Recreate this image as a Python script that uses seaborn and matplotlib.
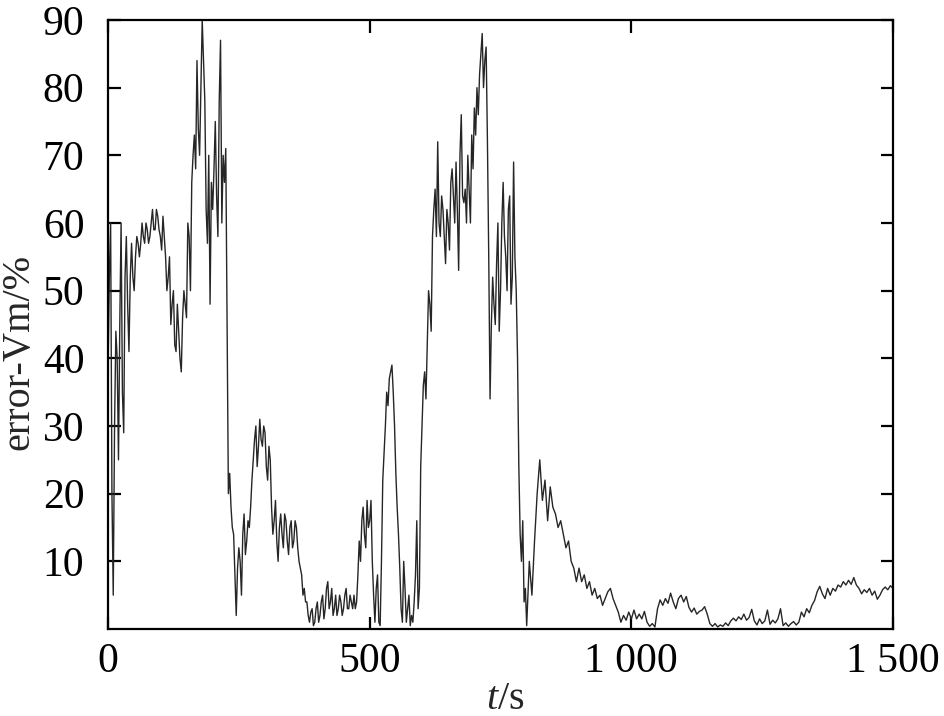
import numpy as np
import pandas as pd
import matplotlib
matplotlib.use("Agg")
import matplotlib.pyplot as plt
import seaborn as sns

# amostragem principal a cada 5 s (t = 0, 5, ..., 1500)
t_step = 5
err_0 = [38, 60, 5, 44, 25, 60, 29, 58, 41, 57, 50, 58, 55, 60, 57, 59, 58, 62, 59, 61]
err_100 = [58, 61, 55, 52, 45, 50, 41, 44, 38, 50, 46, 58, 66, 73, 84, 70, 90, 78, 57, 48]
err_200 = [62, 75, 58, 87, 70, 71, 20, 18, 14, 2, 12, 5, 17, 13, 15, 22, 28, 24, 31, 27]
err_300 = [29, 22, 25, 14, 19, 10, 17, 12, 16, 11, 16, 13, 15, 10, 8, 6, 4, 1, 3, 1]
err_400 = [4, 2, 5, 3, 7, 4, 2, 5, 3, 4, 3, 6, 3, 4, 5, 4, 13, 16, 14, 19]
err_500 = [16, 10, 1, 8, 0.5, 22, 30, 33, 38, 35, 23, 14, 3, 10, 1, 5, 2, 4, 16, 6]
err_600 = [30, 38, 42, 48, 58, 65, 72, 58, 62, 54, 60, 66, 64, 69, 53, 76, 63, 60, 65, 73]
err_700 = [77, 80, 82, 88, 84, 72, 34, 52, 45, 60, 50, 66, 55, 62, 48, 69, 50, 24, 10, 4]
err_800 = [0.5, 10, 5, 13, 20, 25, 19, 22, 16, 21, 18, 17, 15, 16, 14, 12, 13, 10, 9, 7]
err_900 = [9, 7, 8, 6, 7, 5, 6, 4.5, 5, 3.5, 4.5, 5.5, 6, 4.5, 3.5, 2.5, 1, 2, 1.3, 2.5]
err_1000 = [1.5, 2.8, 1.5, 2.2, 1.5, 2.6, 1, 0.4, 0.8, 0.3, 3, 4.3, 3.5, 4.5, 3.8, 5.3, 4, 3, 4.5, 5]
err_1100 = [4, 4.8, 3.2, 2.5, 3.1, 2.2, 2.6, 2.8, 3.3, 2.2, 0.8, 0.4, 0.8, 0.3, 0.6, 0.4, 0.9, 0.5, 1.2, 1.6]
err_1200 = [1.2, 1.8, 1.4, 2.2, 1.3, 1.7, 2.9, 1.2, 0.6, 1.5, 0.8, 1.2, 2.8, 0.7, 1.3, 0.9, 1.5, 3.0, 0.5, 0.9]
err_1300 = [0.4, 0.8, 1.1, 0.6, 1.0, 2.5, 1.8, 3.0, 2.4, 3.5, 4.2, 5.5, 6.3, 5.2, 4.5, 6.0, 5.0, 6.0, 5.6, 6.5]
err_1400 = [6.2, 7.0, 6.5, 7.2, 6.6, 7.6, 6.5, 6.0, 5.2, 5.8, 5.4, 6.0, 5.0, 5.6, 4.4, 5.0, 5.8, 6.2, 5.8, 6.4, 6.0]

# pontos intermediários (t = 2.5, 7.5, ..., 797.5) nos trechos de oscilação rápida
mid_0 = [52, 20, 30, 40, 45, 35, 52, 48, 52, 52, 55, 57, 57, 58, 60, 57, 60, 59, 62, 59]
mid_100 = [56, 58, 50, 55, 48, 42, 48, 40, 46, 48, 60, 50, 70, 68, 74, 80, 84, 62, 70, 66]
mid_200 = [68, 64, 78, 60, 66, 45, 23, 15, 8, 9, 10, 14, 11, 16, 18, 25, 30, 27, 28, 30]
mid_300 = [24, 27, 18, 16, 13, 15, 14, 17, 13, 15, 12, 16, 12, 9, 5, 4, 2, 2.5, 0.5, 3]
mid_400 = [1, 4, 1.5, 6, 3, 6, 3, 2, 5, 2, 5, 3, 5, 3, 3, 8, 10, 18, 12, 15]
mid_500 = [19, 5, 6, 1, 10, 26, 35, 37, 39, 30, 18, 9, 1, 6, 3, 0.5, 1, 8, 3, 24]
mid_600 = [36, 34, 50, 44, 62, 58, 60, 64, 58, 62, 56, 68, 60, 62, 70, 64, 65, 70, 60, 68]
mid_700 = [73, 76, 85, 80, 86, 55, 45, 48, 54, 44, 60, 58, 50, 64, 52, 55, 40, 14, 16, 6]

x_ticks = [0, 500, 1000, 1500]
x_tick_labels = ["0", "500", "1 000", "1 500"]
y_ticks = [10, 20, 30, 40, 50, 60, 70, 80, 90]


def main():
    erro = (err_0 + err_100 + err_200 + err_300 + err_400 + err_500 + err_600
            + err_700 + err_800 + err_900 + err_1000 + err_1100 + err_1200
            + err_1300 + err_1400)
    meio = mid_0 + mid_100 + mid_200 + mid_300 + mid_400 + mid_500 + mid_600 + mid_700

    t_main = np.arange(len(erro)) * t_step
    t_mid = np.arange(len(meio)) * t_step + t_step / 2
    df = pd.DataFrame({"t": np.concatenate([t_main, t_mid]),
                       "erro": erro + meio}).sort_values("t")

    sns.set_theme(style="ticks")
    plt.rcParams["font.family"] = ["Liberation Serif", "DejaVu Serif"]
    plt.rcParams["mathtext.fontset"] = "custom"
    plt.rcParams["mathtext.it"] = "Liberation Serif:italic"
    plt.rcParams["mathtext.rm"] = "Liberation Serif"

    fig = plt.figure(figsize=(9.45, 7.16), dpi=100)
    ax = fig.add_axes([0.1143, 0.1215, 0.8307, 0.8506])

    sns.lineplot(data=df, x="t", y="erro", ax=ax, color="#262626",
                 linewidth=1.0, estimator=None, legend=False)

    ax.set_xlim(0, 1500)
    ax.set_ylim(0, 90)
    ax.set_xticks(x_ticks)
    ax.set_xticklabels(x_tick_labels)
    ax.set_yticks(y_ticks)
    ax.tick_params(direction="in", length=9, width=1.6, labelsize=30,
                   top=True, right=True, colors="black")
    ax.tick_params(axis="x", pad=10)
    ax.tick_params(axis="y", pad=17)
    for sp in ax.spines.values():
        sp.set_linewidth(1.6)
        sp.set_color("black")

    ax.set_xlabel(r"$t$/s", fontsize=29)
    ax.set_ylabel("error-Vm/%", fontsize=29)
    ax.xaxis.set_label_coords(0.506, -0.085)
    ax.yaxis.set_label_coords(-0.09, 0.455)

    fig.savefig("out.png", dpi=100)
    plt.close(fig)


if __name__ == "__main__":
    main()
